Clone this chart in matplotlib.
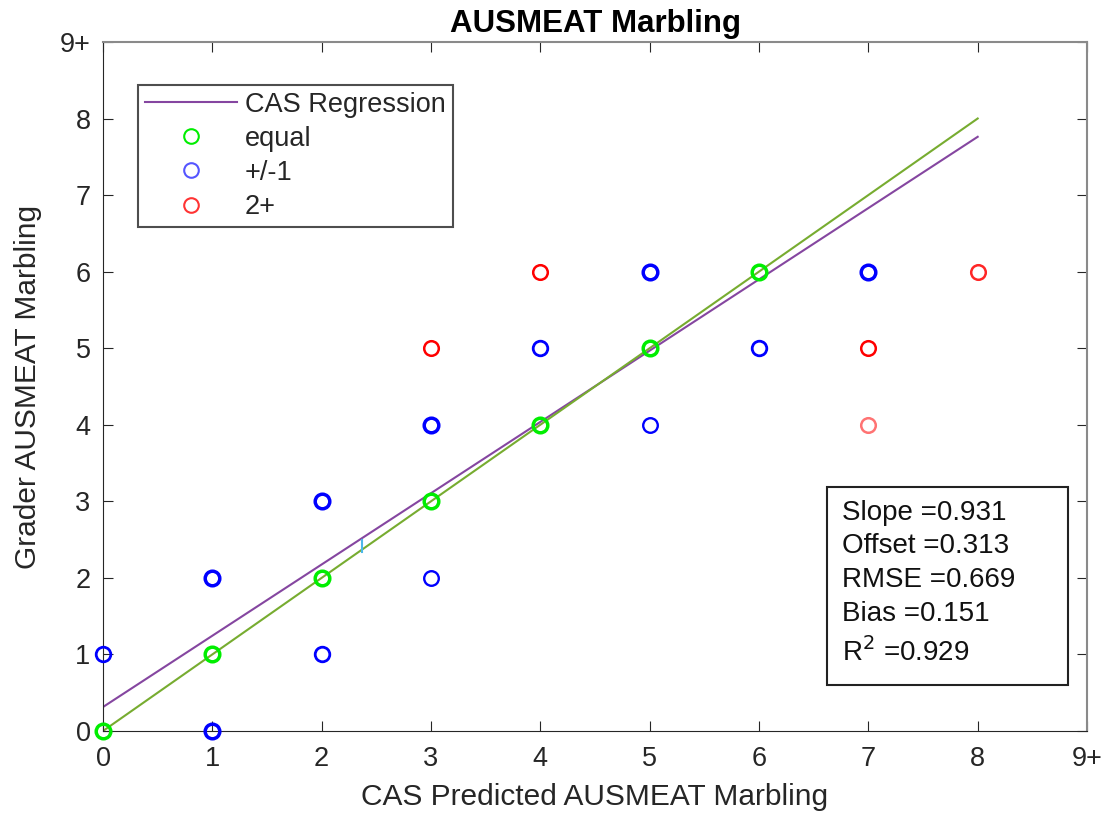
import matplotlib
matplotlib.use("Agg")
import matplotlib.pyplot as plt
from matplotlib.patches import Rectangle
import numpy as np

plt.rcParams['font.family'] = ['Liberation Sans', 'DejaVu Sans']

# Data
equal_x = [0, 1, 2, 3, 4, 5, 6]
equal_y = [0, 1, 2, 3, 4, 5, 6]
equal_lw = [2.5, 2.5, 2.5, 2.5, 2.5, 2.5, 2.5]

pm1_x = [0, 1, 1, 2, 2, 3, 3, 4, 5, 5, 6, 7]
pm1_y = [1, 0, 2, 1, 3, 2, 4, 5, 4, 6, 5, 6]
pm1_lw = [2.0, 2.5, 2.5, 2.0, 2.5, 1.7, 2.5, 2.0, 1.7, 2.5, 2.0, 2.5]

two_x = [3, 4, 7, 7, 8]
two_y = [5, 6, 5, 4, 6]
two_alpha = [1.0, 1.0, 1.0, 0.55, 0.85]

slope = 0.931
offset = 0.313
stats = ["Slope =0.931", "Offset =0.313", "RMSE =0.669", "Bias =0.151", "R$^2$ =0.929"]

xticks = [0, 1, 2, 3, 4, 5, 6, 7, 8, 9]
xtick_labels = ["0", "1", "2", "3", "4", "5", "6", "7", "8", "9+"]
yticks = xticks
ytick_labels = xtick_labels

TXT = '#262626'

fig = plt.figure(figsize=(11.1, 8.16), dpi=100)
ax = fig.add_axes([0.0928, 0.1042, 0.8865, 0.8444])

line_x = np.array([0, 8])
reg, = ax.plot(line_x, slope * line_x + offset, color='#8546a0', lw=1.5, label='CAS Regression', zorder=2)
ax.plot(line_x, line_x, color='#77ac30', lw=1.5, zorder=2)
# small cyan mark
ax.plot([2.37, 2.37], [2.34, 2.49], color='#4db8e8', lw=1.5, zorder=2)

MS = 10.5
for x, y, lw in zip(equal_x, equal_y, equal_lw):
    ax.plot(x, y, 'o', mfc='none', mec='#00ee00', mew=lw, ms=MS, zorder=3, clip_on=False)
for x, y, lw in zip(pm1_x, pm1_y, pm1_lw):
    ax.plot(x, y, 'o', mfc='none', mec='#0000ff', mew=lw, ms=MS, zorder=3, clip_on=False)
for x, y, a in zip(two_x, two_y, two_alpha):
    ax.plot(x, y, 'o', mfc='none', mec='#ff0000', mew=1.8, ms=MS, alpha=a, zorder=3, clip_on=False)

h_eq, = ax.plot([], [], 'o', mfc='none', mec='#00ee00', mew=1.5, ms=MS, label='equal')
h_pm, = ax.plot([], [], 'o', mfc='none', mec='#5555ff', mew=1.5, ms=MS, label='+/-1')
h_2p, = ax.plot([], [], 'o', mfc='none', mec='#ff3333', mew=1.5, ms=MS, label='2+')

ax.set_xlim(0, 9)
ax.set_ylim(0, 9)
ax.set_xticks(xticks)
ax.set_xticklabels(xtick_labels)
ax.set_yticks(yticks)
ax.set_yticklabels(ytick_labels)
ax.tick_params(direction='in', length=7, labelsize=19.5, colors=TXT)
ax.tick_params(axis='x', pad=11)
ax.tick_params(axis='y', pad=9)
ax.tick_params(axis='both', which='both', top=True, right=True)
for s in ['left', 'bottom']:
    ax.spines[s].set_color(TXT)
for s in ['top', 'right']:
    ax.spines[s].set_color('#8a8a8a')
    ax.spines[s].set_linewidth(1.5)

ax.set_xlabel('CAS Predicted AUSMEAT Marbling', fontsize=21.5, color=TXT)
ax.set_ylabel('Grader AUSMEAT Marbling', fontsize=21.5, color=TXT)
ax.xaxis.set_label_coords(0.5, -0.075)
ax.yaxis.set_label_coords(-0.062, 0.5)
ax.set_title('AUSMEAT Marbling', fontsize=22.5, fontweight='bold', pad=7)

leg = ax.legend(handles=[reg, h_eq, h_pm, h_2p], loc='upper left',
                bbox_to_anchor=(0.0356, 0.9376), fontsize=19.5, frameon=True,
                fancybox=False, edgecolor='#222222', handlelength=3.4,
                borderpad=0.25, labelspacing=0.3, handletextpad=0.3, borderaxespad=0)
leg.get_frame().set_linewidth(1.5)
for t in leg.get_texts():
    t.set_color(TXT)

# stats box
ax.add_patch(Rectangle((0.736, 0.0668), 0.245, 0.2872, transform=ax.transAxes,
                       fc='white', ec='#222222', lw=1.5, zorder=4))
stat_y = [0.3164, 0.2685, 0.2192, 0.1698, 0.1147]
for s, yy in zip(stats, stat_y):
    ax.text(0.751, yy, s, transform=ax.transAxes, fontsize=20, color='#111111',
            va='center', ha='left', zorder=5)

fig.savefig('out.png', dpi=100)
